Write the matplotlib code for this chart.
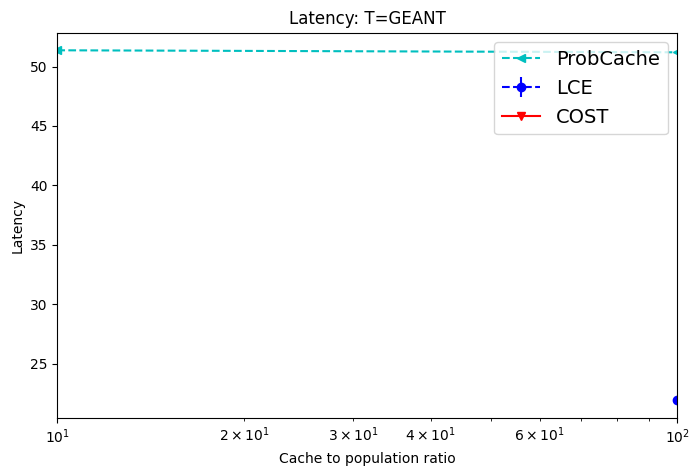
import matplotlib
matplotlib.use('Agg')
import matplotlib.pyplot as plt
import numpy as np

ratios = [10, 100]
probcache = [51.37, 51.2]
lce = [np.nan, 21.95]
lce_err = [0, 0.05]
cost = [np.nan, np.nan]

fig, ax = plt.subplots(figsize=(6.99, 4.75), dpi=100)
fig.subplots_adjust(left=0.082, right=0.969, top=0.931, bottom=0.12)

h1, = ax.plot(ratios, probcache, color='c', linestyle='--', marker='<', label='ProbCache')
h2 = ax.errorbar(ratios, lce, yerr=lce_err, color='b', linestyle='--', marker='o', label='LCE')
h3, = ax.plot(ratios, cost, color='r', linestyle='-', marker='v', label='COST')

ax.set_xscale('log')
ax.set_xlim(10, 100)
ax.set_title('Latency: T=GEANT')
ax.set_xlabel('Cache to population ratio')
ax.set_ylabel('Latency')
ax.legend(handles=[h1, h2, h3], loc='upper right', fontsize=14)

fig.savefig('out.png')
